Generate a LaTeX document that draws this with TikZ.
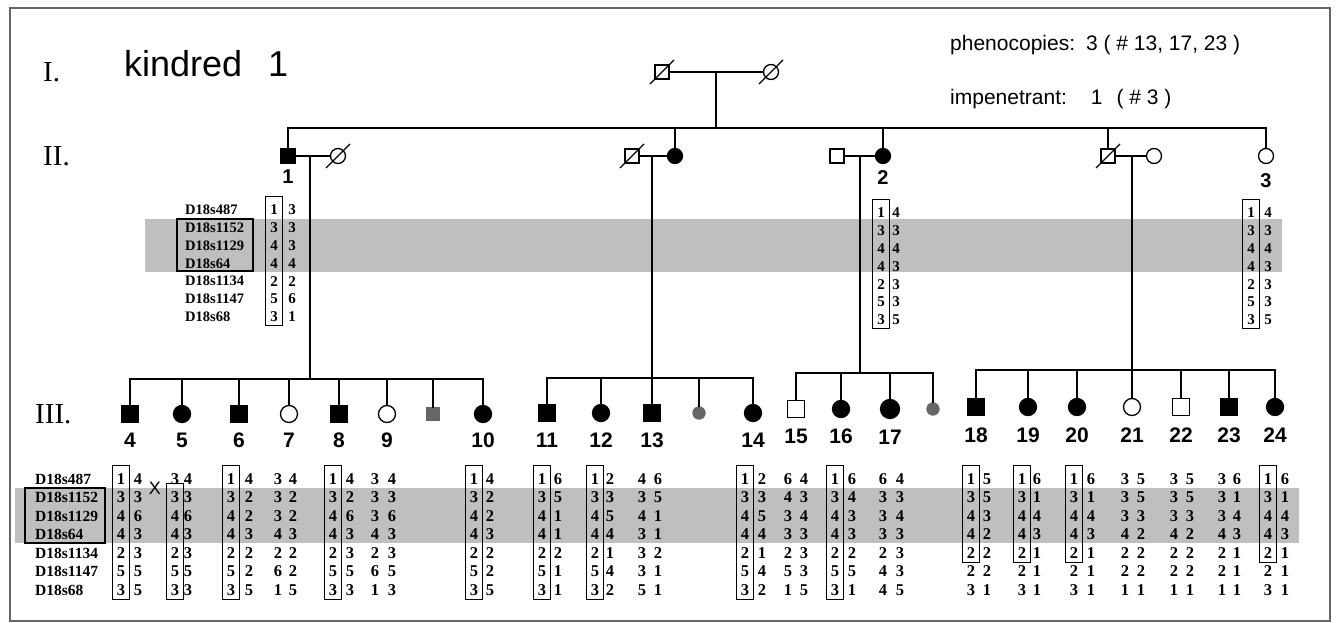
\documentclass[tikz,border=0pt]{standalone}
\usepackage{fontspec}
\setmainfont{Liberation Serif}
\setsansfont{Liberation Sans}
\usetikzlibrary{calc}

\tikzset{
  ped/.style={line width=1.3pt},
  ind/.style={draw, line width=1.3pt, inner sep=0pt, outer sep=0pt},
  male/.style={ind, rectangle, minimum size=14pt},
  female/.style={ind, circle, minimum size=15pt},
  kid/.style={minimum size=17pt},
  aff/.style={fill=black},
  unk/.style={draw=black!60, fill=black!60, minimum size=12pt},
  idlbl/.style={font=\sffamily\bfseries\fontsize{21}{21}\selectfont, inner sep=0pt, anchor=north},
  allele/.style={font=\bfseries\fontsize{#1}{#1}\selectfont, inner sep=0pt},
  marker/.style={font=\bfseries\fontsize{#1}{#1}\selectfont, inner sep=0pt, anchor=west},
  hbox/.style={line width=0.8pt},
  band/.style={fill=black!25},
  gen/.style={font=\fontsize{29}{29}\selectfont, anchor=base west, inner sep=0pt},
  note/.style={font=\sffamily\fontsize{21}{21}\selectfont, anchor=base west, inner sep=0pt},
}

\newcommand{\hapl}[7]{%
  \foreach \a/\b [count=\k] in {#7}{
    \node[allele=#1] (#2a\k) at (#3,{#5+(\k-1)*#6}) {\a};
    \node[allele=#1] (#2b\k) at (#4,{#5+(\k-1)*#6}) {\b};
  }}
\newcommand{\lowhap}[4]{\hapl{16.5}{#1}{#2}{#3}{479}{18.5}{#4}}
\newcommand{\hbx}[2]{\draw[hbox] ($(#1)+(-8.5,-14)$) rectangle ($(#2)+(8.5,9)$);}

\begin{document}
\begin{tikzpicture}[x=1pt,y=-1pt]
  \useasboundingbox (0,0) rectangle (1336,623);
  \draw[black!60, line width=1.5pt] (10,8) rectangle (1330,621);

  \fill[band] (145,219) rectangle (1282,272);
  \fill[band] (15,488) rectangle (1299,543);

  \node[gen] (gI) at (43,82) {I.};
  \node[gen] (gII) at (43,165) {II.};
  \node[gen] (gIII) at (35,423) {III.};
  \node[font=\sffamily\fontsize{36}{36}\selectfont, anchor=base west, inner sep=0pt] (kin) at (124,77) {kindred\hspace{26pt}1};
  \node[note] (phen) at (950,51) {phenocopies:\hspace{11pt}3 ( \# 13, 17, 23 )};
  \node[note] (impen) at (950,105) {impenetrant:\hspace{24pt}1\hspace{14pt}( \# 3 )};

  \node[male] (g1m) at (662,72) {};
  \node[female] (g1f) at (771,72) {};
  \draw[ped] (g1m) -- (g1f);
  \coordinate (sib2) at (716,128);
  \draw[ped] (sib2 |- g1m) -- (sib2);

  \node[male,aff] (p1) at (288,156) {};
  \node[female] (p1s) at (338,156) {};
  \node[male] (p2s) at (632,156) {};
  \node[female,aff] (p2) at (675,156) {};
  \node[male] (p3s) at (837,156) {};
  \node[female,aff] (p3) at (883,156) {};
  \node[male] (p4) at (1108,156) {};
  \node[female] (p4s) at (1154,156) {};
  \node[female] (p5) at (1266,156) {};
  \foreach \n in {g1m,g1f,p1s,p2s,p4}
    \draw[ped] ($(\n)+(-12,12)$) -- ($(\n)+(12,-12)$);
  \draw[ped] (p1) -- (p1s);
  \draw[ped] (p2s) -- (p2);
  \draw[ped] (p3s) -- (p3);
  \draw[ped] (p4) -- (p4s);
  \draw[ped] (p1.north) |- (sib2) -| (p5.north);
  \foreach \n in {p2,p3,p4}
    \draw[ped] (\n.north) -- (\n.north |- sib2);
  \node[idlbl, font=\sffamily\bfseries\fontsize{20}{20}\selectfont] (l1) at ([yshift=-7pt]p1.south) {1};
  \node[idlbl, font=\sffamily\bfseries\fontsize{20}{20}\selectfont] (l2) at ([yshift=-7pt]p3.south) {2};
  \node[idlbl, font=\sffamily\bfseries\fontsize{20}{20}\selectfont] (l3) at ([yshift=-10pt]p5.south) {3};

  \foreach \m [count=\k] in {D18s487,D18s1152,D18s1129,D18s64,D18s1134,D18s1147,D18s68}{
    \node[marker=14.5] (mu\k) at (185,{210+(\k-1)*17.8}) {\m};
    \node[marker=15.5] (ml\k) at (35,{479+(\k-1)*18.5}) {\m};
  }
  \draw[line width=1.3pt] (177,219) rectangle (253,271);
  \draw[line width=1.3pt] (25,488) rectangle (105,543);

  \hapl{15}{ha}{274}{292}{210}{17.8}{1/3,3/3,4/3,4/4,2/2,5/6,3/1}
  \hapl{15}{hb}{881}{896}{213}{17.8}{1/4,3/3,4/4,4/3,2/3,5/3,3/5}
  \hapl{15}{hc}{1251}{1268}{213}{17.8}{1/4,3/3,4/4,4/3,2/3,5/3,3/5}
  \hbx{haa1}{haa7} \hbx{hba1}{hba7} \hbx{hca1}{hca7}

  \coordinate (s1) at (310,379);
  \node[male,aff,kid] (c4) at (130,414) {};
  \node[female,aff,kid] (c5) at (182,414) {};
  \node[male,aff,kid] (c6) at (239,414) {};
  \node[female,kid] (c7) at (289,414) {};
  \node[male,aff,kid] (c8) at (339,414) {};
  \node[female,kid] (c9) at (387,414) {};
  \node[male,unk] (u1) at (433,414) {};
  \node[female,aff,kid] (c10) at (483,414) {};
  \draw[ped] (c4.north) |- (s1) -| (c10.north);
  \foreach \n in {c5,c6,c7,c8,c9,u1}
    \draw[ped] (\n.north) -- (\n.north |- s1);
  \draw[ped] (s1 |- p1) -- (s1);

  \coordinate (s2) at (652,378);
  \node[male,aff,kid] (c11) at (547,413) {};
  \node[female,aff,kid] (c12) at (601,413) {};
  \node[male,aff,kid] (c13) at (652,413) {};
  \node[female,unk] (u2) at (699,413) {};
  \node[female,aff,kid] (c14) at (753,413) {};
  \draw[ped] (c11.north) |- (s2) -| (c14.north);
  \foreach \n in {c12,c13,u2}
    \draw[ped] (\n.north) -- (\n.north |- s2);
  \draw[ped] (s2 |- p2) -- (s2);

  \coordinate (s3) at (860,373);
  \node[male,kid] (c15) at (796,409) {};
  \node[female,aff,kid] (c16) at (841,409) {};
  \node[female,aff,kid,minimum size=19pt] (c17) at (890,409) {};
  \node[female,unk] (u3) at (933,409) {};
  \draw[ped] (c15.north) |- (s3) -| (u3.north);
  \foreach \n in {c16,c17}
    \draw[ped] (\n.north) -- (\n.north |- s3);
  \draw[ped] (s3 |- p3) -- (s3);

  \coordinate (s4) at (1132,370);
  \node[male,aff,kid] (c18) at (976,407) {};
  \node[female,aff,kid] (c19) at (1028,407) {};
  \node[female,aff,kid] (c20) at (1077,407) {};
  \node[female,kid] (c21) at (1132,407) {};
  \node[male,kid] (c22) at (1181,407) {};
  \node[male,aff,kid] (c23) at (1229,407) {};
  \node[female,aff,kid] (c24) at (1275,407) {};
  \draw[ped] (c18.north) |- (s4) -| (c24.north);
  \foreach \n in {c19,c20,c21,c22,c23}
    \draw[ped] (\n.north) -- (\n.north |- s4);
  \draw[ped] (s4 |- p4) -- (s4);

  \foreach \t in {4,...,10}
    \node[idlbl] (l\t) at ([yshift=-10pt]c\t.south) {\t};
  \foreach \t in {11,...,17}
    \node[idlbl] (l\t) at ([yshift=-11pt]c\t.south) {\t};
  \foreach \t in {18,...,24}
    \node[idlbl] (l\t) at ([yshift=-12pt]c\t.south) {\t};

  \lowhap{h4}{121}{138}{1/4,3/3,4/6,4/3,2/3,5/5,3/5}
  \lowhap{h5}{175}{188}{3/4,3/3,4/6,4/3,2/3,5/5,3/3}
  \lowhap{h6}{231}{249}{1/4,3/2,4/2,4/3,2/2,5/2,3/5}
  \lowhap{h7}{278}{293}{3/4,3/2,3/2,4/3,2/2,6/2,1/5}
  \lowhap{h8}{333}{350}{1/4,3/2,4/6,4/3,2/3,5/5,3/3}
  \lowhap{h9}{375}{392}{3/4,3/3,3/6,4/3,2/3,6/5,1/3}
  \lowhap{h10}{474}{490}{1/4,3/2,4/2,4/3,2/2,5/2,3/5}
  \lowhap{h11}{542}{558}{1/6,3/5,4/1,4/1,2/2,5/1,3/1}
  \lowhap{h12}{595}{610}{1/2,3/3,4/5,4/4,2/1,5/4,3/2}
  \lowhap{h13}{642}{658}{4/6,3/5,4/1,3/1,3/2,3/1,5/1}
  \lowhap{h14}{745}{762}{1/2,3/3,4/5,4/4,2/1,5/4,3/2}
  \lowhap{h15}{788}{804}{6/4,4/3,3/4,3/3,2/3,5/3,1/5}
  \lowhap{h16}{835}{852}{1/6,3/4,4/3,4/3,2/2,5/5,3/1}
  \lowhap{h17}{883}{900}{6/4,3/3,3/4,3/3,2/3,4/3,4/5}
  \lowhap{h18}{971}{987}{1/5,3/5,4/3,4/2,2/2,2/2,3/1}
  \lowhap{h19}{1022}{1037}{1/6,3/1,4/4,4/3,2/1,2/1,3/1}
  \lowhap{h20}{1074}{1091}{1/6,3/1,4/4,4/3,2/1,2/1,3/1}
  \lowhap{h21}{1125}{1141}{3/5,3/5,3/3,4/2,2/2,2/2,1/1}
  \lowhap{h22}{1174}{1190}{3/5,3/5,3/3,4/2,2/2,2/2,1/1}
  \lowhap{h23}{1222}{1237}{3/6,3/1,3/4,4/3,2/1,2/1,1/1}
  \lowhap{h24}{1268}{1285}{1/6,3/1,4/4,4/3,2/1,2/1,3/1}
  \hbx{h4a1}{h4a7} \hbx{h5a2}{h5a7} \hbx{h6a1}{h6a7} \hbx{h8a1}{h8a7}
  \hbx{h10a1}{h10a7} \hbx{h11a1}{h11a7} \hbx{h12a1}{h12a7} \hbx{h14a1}{h14a7}
  \hbx{h16a1}{h16a7} \hbx{h18a1}{h18a5} \hbx{h19a1}{h19a5} \hbx{h20a1}{h20a5}
  \hbx{h24a1}{h24a5}
  \node[font=\sffamily\fontsize{18}{18}\selectfont, inner sep=0pt] (xo) at (155,488) {X};
\end{tikzpicture}
\end{document}
